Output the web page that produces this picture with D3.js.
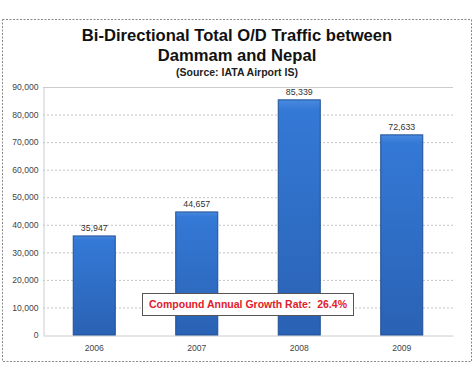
<!DOCTYPE html>
<html>
<head>
<meta charset="utf-8">
<script src="https://cdn.jsdelivr.net/npm/d3@7"></script>
<style>
  body { margin: 0; background: #fff; }
  text { font-family: "Liberation Sans", Arial, sans-serif; }
</style>
</head>
<body>
<div id="chart"></div>
<script>
// O/D traffic chart
var years = ['2006', '2007', '2008', '2009']
var traffic = [35947, 44657, 85339, 72633]
var yTicks = [0, 10000, 20000, 30000, 40000, 50000, 60000, 70000, 80000, 90000]
var cagrLabel = 'Compound Annual Growth Rate:  26.4%'

var width = 474,
    height = 381,
    plotLeft = 43,
    plotRight = 453,
    plotTop = 87,
    plotBottom = 335

var svg = d3.select('#chart').append('svg')
    .attr('width', width)
    .attr('height', height)

var defs = svg.append('defs')
var grad = defs.append('linearGradient').attr('id', 'barGrad')
    .attr('x1', 0).attr('x2', 0).attr('y1', 0).attr('y2', 1)
grad.append('stop').attr('offset', '0%').attr('stop-color', '#4a8ae0')
grad.append('stop').attr('offset', '4%').attr('stop-color', '#3479d6')
grad.append('stop').attr('offset', '100%').attr('stop-color', '#2a62b4')

// dotted frame
svg.append('rect')
    .attr('x', 2.5).attr('y', 19.5)
    .attr('width', 469).attr('height', 342)
    .attr('fill', 'none')
    .attr('stroke', '#888')
    .attr('stroke-dasharray', '2,1.5')
    .attr('stroke-width', 1)

// titles
svg.append('text').attr('x', 237).attr('y', 41)
    .attr('text-anchor', 'middle')
    .style('font-size', '16.6px').style('font-weight', 'bold').style('fill', '#111')
    .text('Bi-Directional Total O/D Traffic between')
svg.append('text').attr('x', 237).attr('y', 61)
    .attr('text-anchor', 'middle')
    .style('font-size', '16.6px').style('font-weight', 'bold').style('fill', '#111')
    .text('Dammam and Nepal')
svg.append('text').attr('x', 237).attr('y', 76)
    .attr('text-anchor', 'middle')
    .style('font-size', '10.5px').style('font-weight', 'bold').style('fill', '#222')
    .text('(Source: IATA Airport IS)')

var x = d3.scaleBand()
    .domain(years)
    .range([plotLeft, plotRight])
    .paddingInner(0.59)
    .paddingOuter(0.295)

var y = d3.scaleLinear()
    .domain([0, 90000])
    .range([plotBottom, plotTop])

// gridlines
svg.append('g').selectAll('line').data(yTicks.slice(1))
  .enter().append('line')
    .attr('x1', plotLeft).attr('x2', plotRight)
    .attr('y1', function(d){ return y(d) + 0.5 })
    .attr('y2', function(d){ return y(d) + 0.5 })
    .attr('stroke', function(d){ return d === 90000 ? '#ccc' : '#c4c4c4' })
    .attr('stroke-dasharray', function(d){ return d === 90000 ? null : '2,2' })

// y axis
var yAxis = svg.append('g')
    .attr('transform', 'translate(' + (plotLeft + 0.5) + ',0)')
    .call(d3.axisLeft(y).tickValues(yTicks).tickSize(0).tickPadding(5).tickFormat(d3.format(',')))
yAxis.select('.domain').attr('stroke', '#ccc')
yAxis.selectAll('text').style('font-size', '8.6px').style('fill', '#444')
    .style('font-family', '"Liberation Sans", Arial, sans-serif')

// x axis
var xAxis = svg.append('g')
    .attr('transform', 'translate(0,' + (plotBottom + 0.5) + ')')
    .call(d3.axisBottom(x).tickSize(0).tickPadding(9))
xAxis.select('.domain').attr('stroke', '#ccc')
xAxis.selectAll('text').style('font-size', '8.6px').style('fill', '#444')
    .style('font-family', '"Liberation Sans", Arial, sans-serif')

// bars
svg.append('g').selectAll('rect').data(traffic)
  .enter().append('rect')
    .attr('x', function(d, i){ return x(years[i]) })
    .attr('y', function(d){ return y(d) })
    .attr('width', x.bandwidth())
    .attr('height', function(d){ return plotBottom - y(d) })
    .attr('fill', 'url(#barGrad)')
    .attr('stroke', '#1f4f94')
    .attr('stroke-width', 1)

// value labels
svg.append('g').selectAll('text').data(traffic)
  .enter().append('text')
    .attr('x', function(d, i){ return x(years[i]) + x.bandwidth() / 2 })
    .attr('y', function(d){ return y(d) - 5 })
    .attr('text-anchor', 'middle')
    .style('font-size', '8.8px').style('fill', '#333')
    .text(function(d){ return d3.format(',')(d) })

// CAGR box
svg.append('rect')
    .attr('x', 142.5).attr('y', 293.5)
    .attr('width', 211).attr('height', 22)
    .attr('fill', '#fff')
    .attr('stroke', '#555')
svg.append('text')
    .attr('x', 248).attr('y', 308)
    .attr('text-anchor', 'middle')
    .style('font-size', '10.5px').style('font-weight', 'bold').style('fill', '#e0202a')
    .style('white-space', 'pre')
    .attr('xml:space', 'preserve')
    .text(cagrLabel)
</script>
</body>
</html>
